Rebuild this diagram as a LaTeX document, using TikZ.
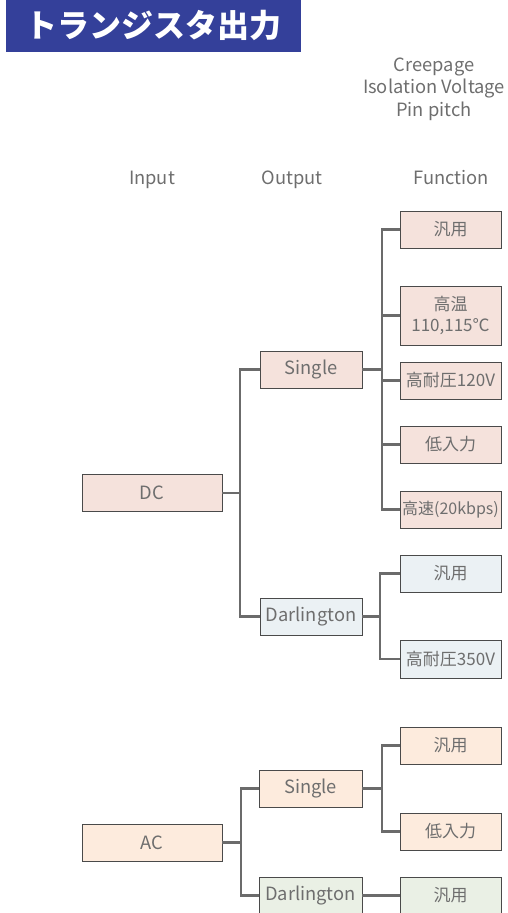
\documentclass[tikz,border=0pt]{standalone}
\usepackage{fontspec}
\setmainfont{Noto Sans CJK JP}
\begin{document}
\begin{tikzpicture}[x=1pt,y=-1pt,
  txt/.style={text=txtgray,font=\fontsize{18.3}{22.5}\selectfont,inner sep=0pt},
  box/.style={draw=bordergray,line width=0.9pt,minimum width=101pt,minimum height=37pt,inner sep=0pt,text=txtgray,font=\fontsize{17}{21}\selectfont,align=center},
  latin/.style={font=\fontsize{18.3}{22}\selectfont},
  inbox/.style={box,latin,minimum width=140pt},
  pinkbox/.style={box,fill=pinkc},
  bluebox/.style={box,fill=bluec},
  peachbox/.style={box,fill=peachc},
  greenbox/.style={box,fill=greenc},
  conn/.style={draw=conngray,line width=2.6pt}
]
\definecolor{txtgray}{HTML}{6E6E6E}
\definecolor{bordergray}{HTML}{4A4A4A}
\definecolor{conngray}{HTML}{6B6B6B}
\definecolor{pinkc}{HTML}{F5E2DC}
\definecolor{bluec}{HTML}{EBF1F4}
\definecolor{peachc}{HTML}{FDEBDD}
\definecolor{greenc}{HTML}{EAF0E5}
\definecolor{titleblue}{HTML}{34409A}
\useasboundingbox (0,0) rectangle (508,913);
\clip (0,0) rectangle (508,913);

% title
\fill[titleblue] (6,0) rectangle (301,52);
\node[anchor=west,text=white,inner sep=0pt,font=\fontsize{32}{36}\selectfont\bfseries] (title) at (25,25) {トランジスタ出力};

% headers
\node[txt,align=center] (spec) at (434,89) {Creepage\\Isolation Voltage\\Pin pitch};
\node[txt,anchor=base] (hin) at (152,184) {Input};
\node[txt,anchor=base] (hout) at (292,184) {Output};
\node[txt,anchor=base] (hfun) at (451,184) {Function};

% coordinates for junctions
\coordinate (jdc) at (240,493);
\coordinate (js1) at (382,369.5);
\coordinate (jd1) at (380,616.5);
\coordinate (jac) at (241,842.5);
\coordinate (js2) at (382,788.5);

% nodes
\node[inbox,fill=pinkc] (DC) at (152,493) {DC};
\node[pinkbox,latin,minimum width=102pt] (S1) at (311,369.5) {Single};
\node[bluebox,latin,minimum width=102pt] (D1) at (311,616.5) {Darlington};

\node[pinkbox] (f1) at (450.5,229.5) {汎用};
\node[pinkbox,minimum height=59pt] (f2) at (450.5,315.5) {高温\\110,115℃};
\node[pinkbox] (f3) at (450.5,380.5) {高耐圧120V};
\node[pinkbox] (f4) at (450.5,444.5) {低入力};
\node[pinkbox,font=\fontsize{16}{20}\selectfont] (f5) at (450.5,509.5) {高速(20kbps)};

\node[bluebox] (g1) at (450.5,573.5) {汎用};
\node[bluebox,minimum height=38pt] (g2) at (450.5,659) {高耐圧350V};

\node[inbox,fill=peachc] (AC) at (152,842.5) {AC};
\node[peachbox,latin,minimum width=103pt] (S2) at (310.5,788.5) {Single};
\node[greenbox,latin,minimum width=103pt] (D2) at (310.5,895.5) {Darlington};
\node[peachbox] (h1) at (450.5,745.5) {汎用};
\node[peachbox] (h2) at (450.5,831.5) {低入力};
\node[greenbox] (h3) at (450.5,895.5) {汎用};

% connectors
\draw[conn] (DC.east) -- (jdc);
\draw[conn] (jdc) |- (S1.west);
\draw[conn] (jdc) |- (D1.west);

\draw[conn] (S1.east) -- (js1);
\draw[conn] (js1) |- (f1.west);
\draw[conn] (js1) |- (f2.west);
\draw[conn] (js1) |- (f3.west);
\draw[conn] (js1) |- (f4.west);
\draw[conn] (js1) |- (f5.west);

\draw[conn] (D1.east) -- (jd1);
\draw[conn] (jd1) |- (g1.west);
\draw[conn] (jd1) |- (g2.west);

\draw[conn] (AC.east) -- (jac);
\draw[conn] (jac) |- (S2.west);
\draw[conn] (jac) |- (D2.west);

\draw[conn] (S2.east) -- (js2);
\draw[conn] (js2) |- (h1.west);
\draw[conn] (js2) |- (h2.west);

\draw[conn] (D2.east) -- (h3.west);
\end{tikzpicture}
\end{document}
